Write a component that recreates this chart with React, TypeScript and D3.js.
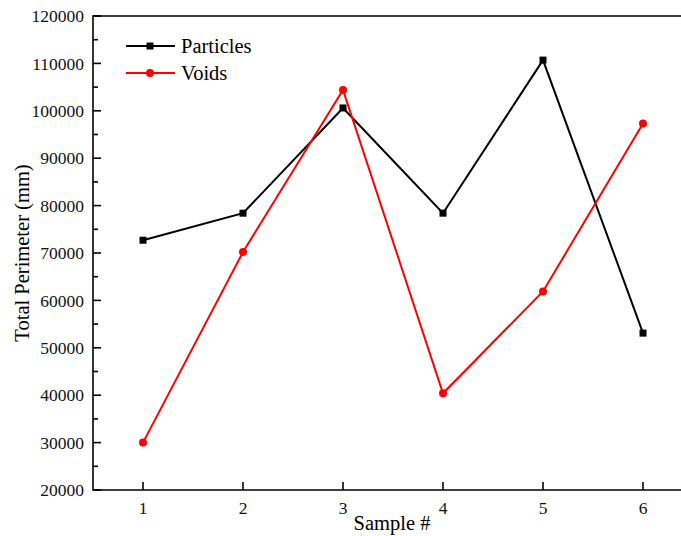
import React from "react";
import * as d3 from "d3";

const samples = [1, 2, 3, 4, 5, 6];
const particles = [72700, 78400, 100600, 78400, 110700, 53100];
const voids = [30000, 70200, 104400, 40400, 61900, 97300];
const yTicks = [20000, 30000, 40000, 50000, 60000, 70000, 80000, 90000, 100000, 110000, 120000];
const yMinorTicks = [25000, 35000, 45000, 55000, 65000, 75000, 85000, 95000, 105000, 115000];
const seriesNames = ["Particles", "Voids"];
const seriesColors = ["#000000", "#ff0000"];

export default function App() {
  const W = 681, H = 536;
  const x = d3.scaleLinear().domain([0.5, 6.5]).range([93, 693]);
  const y = d3.scaleLinear().domain([20000, 120000]).range([490, 16]);
  const line = d3.line<number>().x((_, i) => x(samples[i])).y((d) => y(d));
  const font = "Liberation Serif, Times New Roman, serif";
  const data = [particles, voids];
  return (
    <svg width={W} height={H} style={{ position: "absolute", left: 0, top: 0, fontFamily: font }}>
      <rect width={W} height={H} fill="#fff" />
      <line x1={93} y1={16} x2={W} y2={16} stroke="#000" strokeWidth={1.6} />
      <line x1={93} y1={490} x2={W} y2={490} stroke="#000" strokeWidth={1.6} />
      <line x1={93} y1={15.2} x2={93} y2={490.8} stroke="#000" strokeWidth={1.6} />
      {yTicks.map((t) => (
        <g key={t}>
          <line x1={93} x2={101} y1={y(t)} y2={y(t)} stroke="#000" strokeWidth={1.6} />
          <text x={84} y={y(t)} dy="0.35em" textAnchor="end" fontSize={17.5} fill="#111">{t}</text>
        </g>
      ))}
      {yMinorTicks.map((t) => (
        <line key={t} x1={93} x2={98} y1={y(t)} y2={y(t)} stroke="#000" strokeWidth={1.6} />
      ))}
      {samples.map((s) => (
        <g key={s}>
          <line x1={x(s)} x2={x(s)} y1={490} y2={482} stroke="#000" strokeWidth={1.6} />
          <text x={x(s)} y={514} textAnchor="middle" fontSize={17.5} fill="#111">{s}</text>
        </g>
      ))}
      <text x={392} y={530} textAnchor="middle" fontSize={20.5}>Sample #</text>
      <text transform={`translate(29,${253}) rotate(-90)`} textAnchor="middle" fontSize={20.5}>Total Perimeter (mm)</text>
      {data.map((d, k) => (
        <g key={k}>
          <path d={line(d) || ""} fill="none" stroke={seriesColors[k]} strokeWidth={2} />
          {d.map((v, i) =>
            k === 0 ? (
              <rect key={i} x={x(samples[i]) - 3.5} y={y(v) - 3.5} width={7} height={7} fill={seriesColors[k]} />
            ) : (
              <circle key={i} cx={x(samples[i])} cy={y(v)} r={4} fill={seriesColors[k]} />
            )
          )}
        </g>
      ))}
      {seriesNames.map((n, k) => {
        const ly = 46 + k * 27;
        return (
          <g key={n}>
            <line x1={126} x2={175} y1={ly} y2={ly} stroke={seriesColors[k]} strokeWidth={2} />
            {k === 0 ? (
              <rect x={150 - 3.5} y={ly - 3.5} width={7} height={7} fill={seriesColors[k]} />
            ) : (
              <circle cx={150} cy={ly} r={4} fill={seriesColors[k]} />
            )}
            <text x={181} y={ly} dy="0.35em" fontSize={20.5}>{n}</text>
          </g>
        );
      })}
    </svg>
  );
}
